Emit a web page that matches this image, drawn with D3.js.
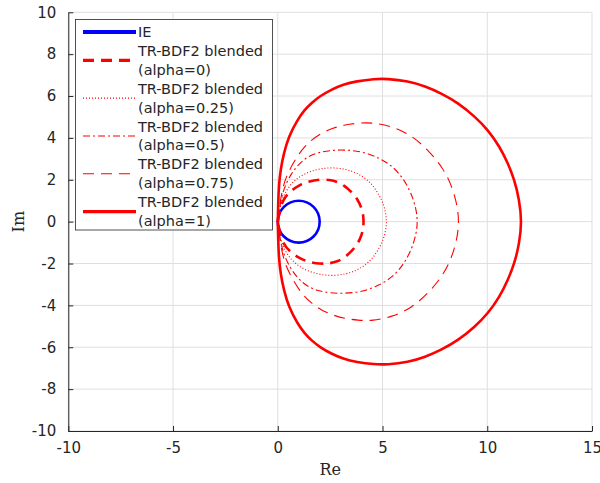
<!DOCTYPE html>
<html>
<head>
<meta charset="utf-8">
<script src="https://cdn.jsdelivr.net/npm/d3@7"></script>
<style>
  body { margin: 0; background: #fff; }
  svg { display: block; }
</style>
</head>
<body>
<div id="vis"></div>
<script>
// axis ticks
const xTicks = [-10, -5, 0, 5, 10, 15]
const yTicks = [-10, -8, -6, -4, -2, 0, 2, 4, 6, 8, 10]

// IE stability boundary: circle centre 1, radius 1
const ieCenter = [1, 0]
const ieRadius = 1

// boundary points [Re, Im], from the origin round and back
const alpha0 = [
  [0, 0], [0.10, 0.56], [0.25, 1.04], [0.57, 1.44], [1.05, 1.76], [1.45, 1.92], [2.0, 2.02],
  [2.48, 2.0], [2.85, 1.9], [3.12, 1.76], [3.5, 1.45], [3.83, 1.04], [4.0, 0.65], [4.08, 0.32], [4.1, 0],
  [4.08, -0.32], [4.0, -0.65], [3.83, -1.04], [3.5, -1.45], [3.12, -1.76], [2.85, -1.9],
  [2.48, -2.0], [2.0, -2.02], [1.45, -1.92], [1.05, -1.76], [0.57, -1.44], [0.25, -1.04],
  [0.10, -0.56], [0, 0]
]
const alpha025 = [
  [0, 0], [0.14, 0.88], [0.33, 1.36], [0.65, 1.84], [1.05, 2.16], [1.53, 2.4], [2.08, 2.54],
  [2.64, 2.59], [3.28, 2.5], [3.7, 2.35], [4.07, 2.15], [4.4, 1.88], [4.63, 1.6], [4.85, 1.25],
  [5.03, 0.88], [5.15, 0.45], [5.2, 0],
  [5.15, -0.45], [5.03, -0.88], [4.85, -1.25], [4.63, -1.6], [4.4, -1.88], [4.07, -2.15],
  [3.7, -2.35], [3.28, -2.5], [2.64, -2.59], [2.08, -2.54], [1.53, -2.4], [1.05, -2.16],
  [0.65, -1.84], [0.33, -1.36], [0.14, -0.88], [0, 0]
]
const alpha05 = [
  [0, 0], [0.14, 1.04], [0.33, 1.68], [0.65, 2.32], [1.05, 2.8], [1.45, 3.12], [1.92, 3.3],
  [2.48, 3.4], [3.12, 3.44], [4.07, 3.35], [4.87, 3.03], [5.5, 2.63], [5.98, 2.08],
  [6.38, 1.36], [6.62, 0.56], [6.67, 0],
  [6.62, -0.56], [6.38, -1.36], [5.98, -2.08], [5.5, -2.63], [4.87, -3.03], [4.07, -3.35],
  [3.12, -3.44], [2.48, -3.4], [1.92, -3.3], [1.45, -3.12], [1.05, -2.8], [0.65, -2.32],
  [0.33, -1.68], [0.14, -1.04], [0, 0]
]
const alpha075 = [
  [0, 0], [0.10, 0.88], [0.25, 1.68], [0.41, 2.16], [0.73, 2.8], [1.13, 3.43], [1.61, 3.91],
  [2.08, 4.23], [2.64, 4.47], [3.2, 4.63], [3.83, 4.71], [4.5, 4.74], [5.44, 4.55],
  [6.38, 4.14], [7.25, 3.35], [7.89, 2.55], [8.29, 1.76], [8.57, 0.8], [8.65, 0],
  [8.57, -0.8], [8.29, -1.76], [7.89, -2.55], [7.25, -3.35], [6.38, -4.14], [5.44, -4.55],
  [4.5, -4.74], [3.83, -4.71], [3.2, -4.63], [2.64, -4.47], [2.08, -4.23], [1.61, -3.91],
  [1.13, -3.43], [0.73, -2.8], [0.41, -2.16], [0.25, -1.68], [0.10, -0.88], [0, 0]
]
const alpha1 = [
  [0, 0], [0.02, 0.9], [0.05, 1.68], [0.13, 2.48], [0.29, 3.27], [0.52, 4.07], [0.94, 4.87],
  [1.29, 5.35], [1.61, 5.67], [2.0, 5.99], [2.56, 6.31], [3.12, 6.55], [3.75, 6.71],
  [4.63, 6.82], [5.2, 6.83], [6.23, 6.71], [7.03, 6.47], [7.82, 6.12], [8.61, 5.67],
  [9.4, 5.03], [10.03, 4.39], [10.59, 3.59], [10.98, 2.8], [11.3, 2.0], [11.53, 1.04], [11.65, 0],
  [11.53, -1.04], [11.3, -2.0], [10.98, -2.8], [10.59, -3.59], [10.03, -4.39], [9.4, -5.03],
  [8.61, -5.67], [7.82, -6.12], [7.03, -6.47], [6.23, -6.71], [5.2, -6.83], [4.63, -6.82],
  [3.75, -6.71], [3.12, -6.55], [2.56, -6.31], [2.0, -5.99], [1.61, -5.67], [1.29, -5.35],
  [0.94, -4.87], [0.52, -4.07], [0.29, -3.27], [0.13, -2.48], [0.05, -1.68], [0.02, -0.9], [0, 0]
]

const series = [
  { name: "alpha=0", pts: alpha0, width: 2.6, dash: "11,7" },
  { name: "alpha=0.25", pts: alpha025, width: 1.1, dash: "1,2" },
  { name: "alpha=0.5", pts: alpha05, width: 1.1, dash: "7,3,2,3" },
  { name: "alpha=0.75", pts: alpha075, width: 1.1, dash: "11,7" },
  { name: "alpha=1", pts: alpha1, width: 2.6, dash: null }
]

const width = 600
const height = 483
const margin = { top: 12.3, right: 8, bottom: 52, left: 68.3 }
const ink = "#262626"

const x = d3.scaleLinear().domain([-10, 15]).range([margin.left, width - margin.right])
const y = d3.scaleLinear().domain([-10, 10]).range([height - margin.bottom, margin.top])

const svg = d3.select("#vis").append("svg")
  .attr("width", width)
  .attr("height", height)
  .attr("font-family", "DejaVu Sans, sans-serif")

// grid
svg.append("g")
  .selectAll("line")
  .data(xTicks)
  .join("line")
  .attr("x1", d => x(d)).attr("x2", d => x(d))
  .attr("y1", y(-10)).attr("y2", y(10))
  .attr("stroke", "#dfdfdf")
svg.append("g")
  .selectAll("line")
  .data(yTicks)
  .join("line")
  .attr("y1", d => y(d)).attr("y2", d => y(d))
  .attr("x1", x(-10)).attr("x2", x(15))
  .attr("stroke", "#dfdfdf")

// axes, ticks pointing inward, plain hyphen for minus
const xAxis = svg.append("g")
  .attr("transform", `translate(0,${y(-10)})`)
  .call(d3.axisBottom(x).tickValues(xTicks).tickFormat(d => String(d))
    .tickSize(-5).tickPadding(11).tickSizeOuter(0))
const yAxis = svg.append("g")
  .attr("transform", `translate(${x(-10)},0)`)
  .call(d3.axisLeft(y).tickValues(yTicks).tickFormat(d => String(d))
    .tickSize(-5).tickPadding(12).tickSizeOuter(0))

for (const g of [xAxis, yAxis]) {
  g.selectAll(".domain").attr("stroke", ink)
  g.selectAll(".tick line").attr("stroke", ink)
  g.selectAll(".tick text").attr("fill", ink).attr("font-size", 15)
    .attr("font-family", "DejaVu Sans, sans-serif")
}

// curves (b-spline smooths out reading noise)
const line = d3.line()
  .x(d => x(d[0]))
  .y(d => y(d[1]))
  .curve(d3.curveBasis)

svg.append("circle")
  .attr("cx", x(ieCenter[0]))
  .attr("cy", y(ieCenter[1]))
  .attr("r", x(ieCenter[0] + ieRadius) - x(ieCenter[0]))
  .attr("fill", "none")
  .attr("stroke", "#0000ff")
  .attr("stroke-width", 2.6)

svg.append("g")
  .selectAll("path")
  .data(series)
  .join("path")
  .attr("d", d => line(d.pts))
  .attr("fill", "none")
  .attr("stroke", "#ff0000")
  .attr("stroke-width", d => d.width)
  .attr("stroke-dasharray", d => d.dash)

// axis labels (latex style)
svg.append("text")
  .attr("x", x(2.5))
  .attr("y", 475)
  .attr("text-anchor", "middle")
  .attr("font-family", "DejaVu Serif, serif")
  .attr("font-size", 16)
  .attr("fill", ink)
  .text("Re")
svg.append("text")
  .attr("transform", `translate(24,${y(0)}) rotate(-90)`)
  .attr("text-anchor", "middle")
  .attr("font-family", "DejaVu Serif, serif")
  .attr("font-size", 16)
  .attr("fill", ink)
  .text("Im")

// legend
const legend = svg.append("g")
legend.append("rect")
  .attr("x", 75.5).attr("y", 19.5)
  .attr("width", 197).attr("height", 210.5)
  .attr("fill", "#fff")
  .attr("stroke", ink)
  .attr("stroke-width", 0.8)

const rowH = 18.9
const legendItems = [{ label: ["IE"], color: "#0000ff", width: 4, dash: null }]
  .concat(series.map(s => ({
    label: ["TR-BDF2 blended", "(" + s.name + ")"],
    color: "#ff0000",
    width: s.width === 2.6 ? 3.2 : 1.1,
    dash: s.dash
  })))

let row = 0
legendItems.forEach(item => {
  const top = 32 + row * rowH
  const mid = top + (item.label.length - 1) * rowH / 2
  legend.append("line")
    .attr("x1", 83).attr("x2", 136)
    .attr("y1", mid).attr("y2", mid)
    .attr("stroke", item.color)
    .attr("stroke-width", item.width)
    .attr("stroke-dasharray", item.dash)
  item.label.forEach((t, i) => {
    legend.append("text")
      .attr("x", 138)
      .attr("y", top + i * rowH)
      .attr("dy", "0.35em")
      .attr("font-size", 14.5)
      .attr("fill", ink)
      .text(t)
  })
  row += item.label.length
})
</script>
</body>
</html>
